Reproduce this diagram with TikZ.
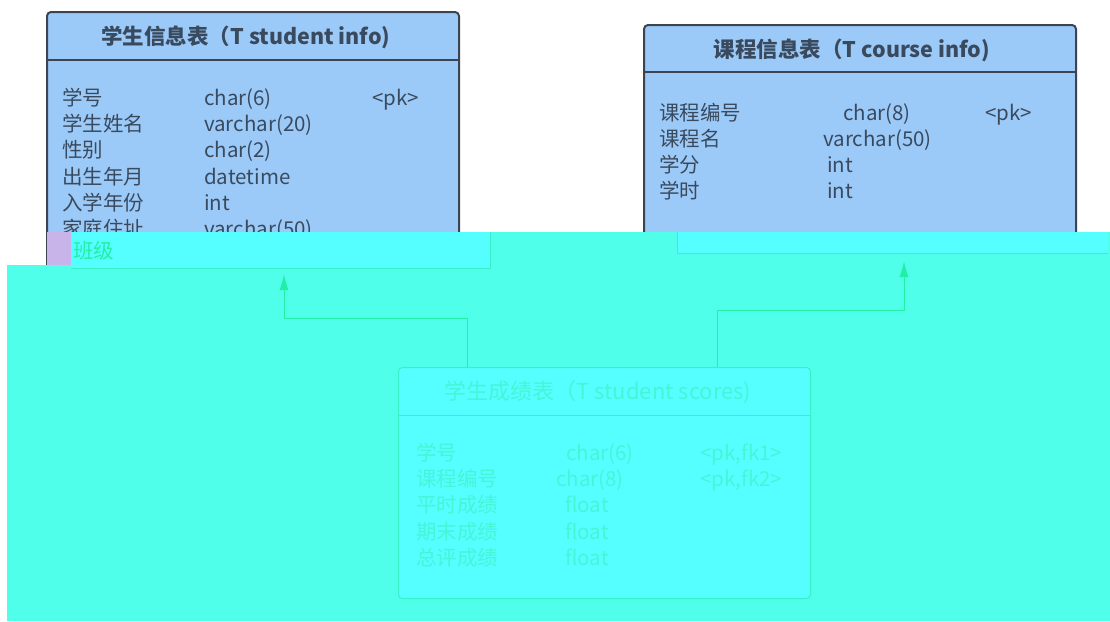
\documentclass[tikz,border=0pt]{standalone}
\usepackage{fontspec}
\setmainfont{Noto Sans CJK SC}
\usetikzlibrary{arrows.meta}
\definecolor{tblue}{HTML}{9CCAF8}
\definecolor{tborder}{HTML}{3C4452}
\definecolor{ttext}{HTML}{3A4A5E}
\definecolor{gcyan}{HTML}{50FFEA}
\definecolor{lcyan}{HTML}{55FFFF}
\definecolor{ftext}{HTML}{46F4D6}
\definecolor{fline}{HTML}{38F0C8}
\definecolor{garrow}{HTML}{22EFA6}
\definecolor{pinkish}{HTML}{C8B4E8}
\tikzset{
  tablebox/.style={draw=tborder, line width=2pt, fill=tblue, rounded corners=4pt, anchor=north west, inner sep=0pt},
  fadedbox/.style={draw=fline, line width=1pt, fill=lcyan, rounded corners=4pt, anchor=north west, inner sep=0pt},
  rowtxt/.style={anchor=base west, inner sep=0pt, text=ttext, font=\fontsize{20.5}{20.5}\selectfont},
  titletxt/.style={anchor=base, inner sep=0pt, text=ttext, font=\fontsize{21.5}{21.5}\selectfont\bfseries},
  fadedtxt/.style={anchor=base west, inner sep=0pt, text=ftext, font=\fontsize{20.5}{20.5}\selectfont},
  arr/.style={draw=garrow, line width=1pt, -{Latex[length=16pt,width=9pt]}}
}
\begin{document}
\begin{tikzpicture}[x=1pt,y=-1pt]
\useasboundingbox (0,0) rectangle (1110,621);
\fill[white] (0,0) rectangle (1110,621);
% student info table
\node[tablebox, minimum width=412pt, minimum height=257pt] (stu) at (46,11) {};
\draw[tborder, line width=2pt] (46,60) -- (458,60);
\node[titletxt] (stutitle) at (246,44) {学生信息表（T student info)};
\node[rowtxt] (s1a) at (62,105) {学号};
\node[rowtxt] (s1b) at (204,105) {char(6)};
\node[rowtxt] (s1c) at (372,105) {<pk>};
\node[rowtxt] (s2a) at (62,131) {学生姓名};
\node[rowtxt] (s2b) at (204,131) {varchar(20)};
\node[rowtxt] (s3a) at (62,157) {性别};
\node[rowtxt] (s3b) at (204,157) {char(2)};
\node[rowtxt] (s4a) at (62,184) {出生年月};
\node[rowtxt] (s4b) at (204,184) {datetime};
\node[rowtxt] (s5a) at (62,210) {入学年份};
\node[rowtxt] (s5b) at (204,210) {int};
\node[rowtxt] (s6a) at (62,236) {家庭住址};
\node[rowtxt] (s6b) at (204,236) {varchar(50)};
% course info table
\node[tablebox, minimum width=432pt, minimum height=229pt] (crs) at (643,24) {};
\draw[tborder, line width=2pt] (643,72) -- (1075,72);
\node[titletxt] (crstitle) at (852,57) {课程信息表（T course info)};
\node[rowtxt] (c1a) at (659,120) {课程编号};
\node[rowtxt] (c1b) at (843,120) {char(8)};
\node[rowtxt] (c1c) at (985,120) {<pk>};
\node[rowtxt] (c2a) at (659,146) {课程名};
\node[rowtxt] (c2b) at (823,146) {varchar(50)};
\node[rowtxt] (c3a) at (659,172) {学分};
\node[rowtxt] (c3b) at (827,172) {int};
\node[rowtxt] (c4a) at (659,198) {学时};
\node[rowtxt] (c4b) at (827,198) {int};
% overlay
\fill[pinkish] (47,232) rectangle (71,265);
\fill[gcyan] (71,232) -- (1110,232) -- (1110,621) -- (7,621) -- (7,265) -- (71,265) -- cycle;
\fill[lcyan] (71,232) rectangle (490,268);
\draw[fline, line width=0.8pt] (71,268) -- (490,268) -- (490,232);
\fill[lcyan] (677,232) rectangle (1108,253);
\draw[fline, line width=0.8pt] (677,232) -- (677,253) -- (1108,253);
\node[fadedtxt, text=garrow] (s7a) at (73,258) {班级};
% scores table
\node[fadedbox, minimum width=412pt, minimum height=231pt] (sco) at (398,367) {};
\draw[fline, line width=1pt] (398,415) -- (810,415);
\node[anchor=base, inner sep=0pt, text=ftext, font=\fontsize{22}{22}\selectfont] (scotitle) at (598,399) {学生成绩表（T student scores)};
\node[fadedtxt] (k1a) at (416,460) {学号};
\node[fadedtxt] (k1b) at (566,460) {char(6)};
\node[fadedtxt] (k1c) at (700,460) {<pk,fk1>};
\node[fadedtxt] (k2a) at (416,486) {课程编号};
\node[fadedtxt] (k2b) at (556,486) {char(8)};
\node[fadedtxt] (k2c) at (700,486) {<pk,fk2>};
\node[fadedtxt] (k3a) at (416,512) {平时成绩};
\node[fadedtxt] (k3b) at (565,512) {float};
\node[fadedtxt] (k4a) at (416,539) {期末成绩};
\node[fadedtxt] (k4b) at (565,539) {float};
\node[fadedtxt] (k5a) at (416,565) {总评成绩};
\node[fadedtxt] (k5b) at (565,565) {float};
% connectors
\coordinate (stuIn) at (284,274);
\coordinate (crsIn) at (904,261);
\coordinate (scoL) at (467,367);
\coordinate (scoR) at (717,367);
\draw[arr] (scoL) -- (467,318) -| (stuIn);
\draw[arr] (scoR) -- (717,310) -| (crsIn);
\end{tikzpicture}
\end{document}
